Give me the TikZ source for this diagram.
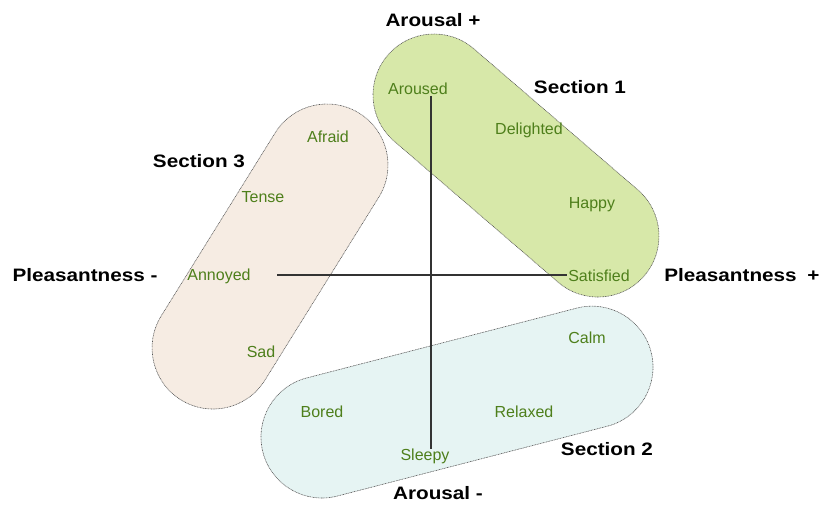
\documentclass[tikz,border=0pt]{standalone}
\usepackage{fontspec}
\setmainfont{Liberation Sans}
\newfontfamily\boldwide[FakeStretch=1.15]{Liberation Sans Bold}
\definecolor{gfill}{HTML}{D7E8A9}
\definecolor{pfill}{HTML}{F6ECE3}
\definecolor{bfill}{HTML}{E6F4F3}
\definecolor{lbl}{HTML}{4E7F1B}
\definecolor{edge}{HTML}{555555}
\begin{document}
\begin{tikzpicture}[x=1pt,y=1pt,
  capsule/.style={draw=edge,line width=0.6pt,dash pattern=on 0.9pt off 0.7pt},
  word/.style={text=lbl,font=\fontsize{16}{18}\selectfont,inner sep=1pt},
  title/.style={text=black,font=\boldwide\fontsize{18}{20}\selectfont,inner sep=1pt},
  axis/.style={draw=black!80,line width=1.1pt}]
\useasboundingbox (0,0) rectangle (823,-505);
% Section 3 (pink)
\begin{scope}[shift={(327,-165)},rotate=-121.9]
\draw[capsule,fill=pfill] (0,61) -- (215.6,61) arc[start angle=90,end angle=-90,radius=61] -- (0,-61) arc[start angle=270,end angle=90,radius=61] -- cycle;
\end{scope}
% Section 1 (green)
\begin{scope}[shift={(434,-95)},rotate=-40.7]
\draw[capsule,fill=gfill] (0,61) -- (216.3,61) arc[start angle=90,end angle=-90,radius=61] -- (0,-61) arc[start angle=270,end angle=90,radius=61] -- cycle;
\end{scope}
% Section 2 (blue)
\begin{scope}[shift={(322,-437)},rotate=14.5]
\draw[capsule,fill=bfill] (0,61) -- (278.9,61) arc[start angle=90,end angle=-90,radius=61] -- (0,-61) arc[start angle=270,end angle=90,radius=61] -- cycle;
\end{scope}
% words
\node[word] (aroused) at (418,-89) {Aroused};
\node[word] (delighted) at (529,-130) {Delighted};
\node[word] (happy) at (592,-205) {Happy};
\node[word] (satisfied) at (599,-276) {Satisfied};
\node[word] (afraid) at (328,-137) {Afraid};
\node[word] (tense) at (263,-197) {Tense};
\node[word] (annoyed) at (219,-276) {Annoyed};
\node[word] (sad) at (261,-352) {Sad};
\node[word] (calm) at (587,-338) {Calm};
\node[word] (bored) at (322,-412) {Bored};
\node[word] (relaxed) at (524,-412) {Relaxed};
\node[word] (sleepy) at (425,-456) {Sleepy};
% axes
\coordinate (vtop) at (431,-96);
\coordinate (vbot) at (431,-449);
\coordinate (hleft) at (277,-275);
\draw[axis] (vtop) -- (vbot);
\draw[axis] (hleft) -- (satisfied.west |- hleft);
% titles
\node[title] (aplus) at (433,-20) {Arousal +};
\node[title] (aminus) at (438,-493) {Arousal -};
\node[title] (pminus) at (85,-275) {Pleasantness -};
\node[title] (pplus) at (742,-275) {Pleasantness\hspace{0.6em}+};
\node[title] (s1) at (580,-87) {Section 1};
\node[title] (s2) at (607,-449) {Section 2};
\node[title] (s3) at (199,-161) {Section 3};
\end{tikzpicture}
\end{document}
